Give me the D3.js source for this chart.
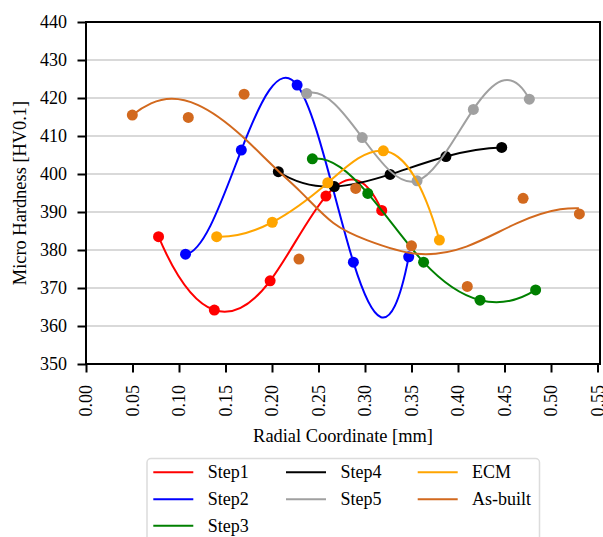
<!DOCTYPE html>
<html>
<head>
<meta charset="utf-8">
<script src="https://cdn.jsdelivr.net/npm/d3@7"></script>
<style>
  body { margin: 0; background: #fff; }
  svg text { font-family: "Liberation Serif", "Times New Roman", serif !important; }
</style>
</head>
<body>
<script>
// measured points, radial coordinate [mm] vs hardness [HV0.1]
const step1X = [0.078, 0.138, 0.198, 0.258, 0.318];
const step1Y = [383.5, 364.2, 371.9, 394.2, 390.4];
const step2X = [0.107, 0.167, 0.227, 0.2875, 0.347];
const step2Y = [378.9, 406.3, 423.4, 376.8, 378.2];
const step3X = [0.2434, 0.303, 0.363, 0.4237, 0.4835];
const step3Y = [404.0, 394.9, 376.8, 366.8, 369.5];
const step4X = [0.2068, 0.267, 0.327, 0.387, 0.447];
const step4Y = [400.6, 396.7, 399.9, 404.6, 407.0];
const step5X = [0.2373, 0.297, 0.356, 0.4165, 0.4767];
const step5Y = [421.2, 409.6, 398.2, 417.0, 419.7];
const ecmX = [0.1405, 0.2003, 0.26, 0.3197, 0.38];
const ecmY = [383.5, 387.3, 397.7, 406.1, 382.6];
const asBuiltX = [0.0498, 0.11, 0.17, 0.229, 0.29, 0.35, 0.41, 0.47, 0.5305];
const asBuiltY = [415.5, 414.9, 421.0, 377.6, 396.2, 381.1, 370.4, 393.6, 389.5];
// as-built trend line
const asBuiltFitX = [0.05, 0.07, 0.092, 0.12, 0.1685, 0.206, 0.23, 0.266, 0.302, 0.3555, 0.409, 0.463, 0.51, 0.53];
const asBuiltFitY = [415.5, 418.6, 419.8, 418.2, 409.8, 401.0, 395.5, 387.1, 382.6, 379.0, 380.9, 387.0, 390.7, 391.0];

const xTicks = [0, 0.05, 0.1, 0.15, 0.2, 0.25, 0.3, 0.35, 0.4, 0.45, 0.5, 0.55];
const yTicks = [350, 360, 370, 380, 390, 400, 410, 420, 430, 440];

const series = [
  { name: "Step1", color: "#ff0000", xs: step1X, ys: step1Y },
  { name: "Step2", color: "#0000ff", xs: step2X, ys: step2Y },
  { name: "Step3", color: "#008000", xs: step3X, ys: step3Y },
  { name: "Step4", color: "#000000", xs: step4X, ys: step4Y },
  { name: "Step5", color: "#a0a0a0", xs: step5X, ys: step5Y },
  { name: "ECM", color: "#ffa500", xs: ecmX, ys: ecmY },
  { name: "As-built", color: "#d2691e", xs: asBuiltFitX, ys: asBuiltFitY, px: asBuiltX, py: asBuiltY }
];

const FONT = "'Liberation Serif', 'Times New Roman', serif";

// cubic spline with not-a-knot ends, as a d3 curve
function curveNotAKnot(context) {
  const xs = [], ys = [];
  return {
    areaStart() {}, areaEnd() {},
    lineStart() { xs.length = 0; ys.length = 0; },
    point(px, py) { xs.push(+px); ys.push(+py); },
    lineEnd() {
      const n = xs.length;
      if (!n) return;
      context.moveTo(xs[0], ys[0]);
      if (n < 4) {
        for (let i = 1; i < n; i++) context.lineTo(xs[i], ys[i]);
        return;
      }
      const h = d3.range(n - 1).map(i => xs[i + 1] - xs[i]);
      const A = d3.range(n).map(() => new Array(n).fill(0));
      const b = new Array(n).fill(0);
      A[0][0] = h[1]; A[0][1] = -(h[0] + h[1]); A[0][2] = h[0];
      A[n - 1][n - 3] = h[n - 2]; A[n - 1][n - 2] = -(h[n - 3] + h[n - 2]); A[n - 1][n - 1] = h[n - 3];
      for (let i = 1; i < n - 1; i++) {
        A[i][i - 1] = h[i - 1];
        A[i][i] = 2 * (h[i - 1] + h[i]);
        A[i][i + 1] = h[i];
        b[i] = 6 * ((ys[i + 1] - ys[i]) / h[i] - (ys[i] - ys[i - 1]) / h[i - 1]);
      }
      // gaussian elimination
      for (let c = 0; c < n; c++) {
        let p = c;
        for (let r = c + 1; r < n; r++) if (Math.abs(A[r][c]) > Math.abs(A[p][c])) p = r;
        [A[c], A[p]] = [A[p], A[c]];
        [b[c], b[p]] = [b[p], b[c]];
        for (let r = c + 1; r < n; r++) {
          const f = A[r][c] / A[c][c];
          for (let k = c; k < n; k++) A[r][k] -= f * A[c][k];
          b[r] -= f * b[c];
        }
      }
      const M = new Array(n).fill(0);
      for (let r = n - 1; r >= 0; r--) {
        let s = b[r];
        for (let k = r + 1; k < n; k++) s -= A[r][k] * M[k];
        M[r] = s / A[r][r];
      }
      for (let i = 0; i < n - 1; i++) {
        const hi = h[i], sl = (ys[i + 1] - ys[i]) / hi;
        const m0 = sl - hi * (2 * M[i] + M[i + 1]) / 6;
        const m1 = sl + hi * (M[i] + 2 * M[i + 1]) / 6;
        context.bezierCurveTo(
          xs[i] + hi / 3, ys[i] + m0 * hi / 3,
          xs[i + 1] - hi / 3, ys[i + 1] - m1 * hi / 3,
          xs[i + 1], ys[i + 1]);
      }
    }
  };
}

const W = 603, H = 537;
const mLeft = 86, mRight = 600, mTop = 22, mBottom = 364;

const svg = d3.select("body").append("svg")
  .attr("width", W)
  .attr("height", H)
  .style("font-family", FONT);

const x = d3.scaleLinear().domain([0, (mRight - mLeft) / 930]).range([mLeft, mRight]);
const y = d3.scaleLinear().domain([350, 440]).range([mBottom, mTop]);

// grid
svg.append("g")
  .selectAll("line")
  .data(yTicks.slice(1, -1))
  .join("line")
  .attr("x1", mLeft).attr("x2", mRight)
  .attr("y1", d => y(d)).attr("y2", d => y(d))
  .attr("stroke", "#cccccc")
  .attr("stroke-width", 1.3);

svg.append("clipPath").attr("id", "plot-clip")
  .append("rect")
  .attr("x", mLeft).attr("y", mTop)
  .attr("width", mRight - mLeft).attr("height", mBottom - mTop);

const plot = svg.append("g").attr("clip-path", "url(#plot-clip)");

const line = d3.line()
  .x(d => x(d[0]))
  .y(d => y(d[1]))
  .curve(curveNotAKnot);

series.forEach(s => {
  const pts = s.xs.map((v, i) => [v, s.ys[i]]);
  plot.append("path")
    .attr("d", line(pts))
    .attr("fill", "none")
    .attr("stroke", s.color)
    .attr("stroke-width", 2);
  const dots = s.px ? s.px.map((v, i) => [v, s.py[i]]) : pts;
  plot.append("g")
    .selectAll("circle")
    .data(dots)
    .join("circle")
    .attr("cx", d => x(d[0]))
    .attr("cy", d => y(d[1]))
    .attr("r", 5.5)
    .attr("fill", s.color);
});

// axes
const xAxis = svg.append("g")
  .attr("transform", `translate(0,${mBottom})`)
  .call(d3.axisBottom(x).tickValues(xTicks).tickFormat(d3.format(".2f")).tickSize(8.5).tickSizeOuter(0));
xAxis.selectAll("text")
  .attr("transform", "rotate(-90)")
  .attr("text-anchor", "end")
  .attr("x", -21)
  .attr("y", 0)
  .attr("dy", "0.33em");

const yAxis = svg.append("g")
  .attr("transform", `translate(${mLeft},0)`)
  .call(d3.axisLeft(y).tickValues(yTicks).tickSize(8.5).tickSizeOuter(0));
yAxis.selectAll("text").attr("x", -19).attr("dy", "0.33em");

[xAxis, yAxis].forEach(g => {
  g.attr("font-family", null).attr("font-size", null);
  g.select(".domain").remove();
  g.selectAll("line").attr("stroke", "#000").attr("stroke-width", 2);
  g.selectAll("text").attr("fill", "#000").style("font-family", FONT).style("font-size", "18px");
});

// frame
svg.append("rect")
  .attr("x", mLeft).attr("y", mTop)
  .attr("width", mRight - mLeft).attr("height", mBottom - mTop)
  .attr("fill", "none")
  .attr("stroke", "#000")
  .attr("stroke-width", 2);

svg.append("text")
  .attr("x", (mLeft + mRight) / 2)
  .attr("y", 442)
  .attr("text-anchor", "middle")
  .style("font-family", FONT)
  .style("font-size", "18.4px")
  .text("Radial Coordinate [mm]");

svg.append("text")
  .attr("transform", `translate(26,${(100 + 286) / 2}) rotate(-90)`)
  .attr("text-anchor", "middle")
  .style("font-family", FONT)
  .style("font-size", "18.4px")
  .text("Micro Hardness [HV0.1]");

// legend
const legend = svg.append("g");
legend.append("rect")
  .attr("x", 147).attr("y", 458.5)
  .attr("width", 392.5).attr("height", 100)
  .attr("rx", 4)
  .attr("fill", "#fff")
  .attr("stroke", "#dcdcdc")
  .attr("stroke-width", 1.5);

const colX = [153.3, 286, 417.7];
const rowY = [472.3, 499.3, 525.8];
const layout = [[0, 0], [0, 1], [0, 2], [1, 0], [1, 1], [2, 0], [2, 1]];

series.forEach((s, i) => {
  const [c, r] = layout[i];
  legend.append("line")
    .attr("x1", colX[c]).attr("x2", colX[c] + 40)
    .attr("y1", rowY[r]).attr("y2", rowY[r])
    .attr("stroke", s.color)
    .attr("stroke-width", 2);
  legend.append("text")
    .attr("x", colX[c] + 54.4)
    .attr("y", rowY[r])
    .attr("dy", "0.33em")
    .style("font-family", FONT)
    .style("font-size", "18px")
    .text(s.name);
});
</script>
</body>
</html>
